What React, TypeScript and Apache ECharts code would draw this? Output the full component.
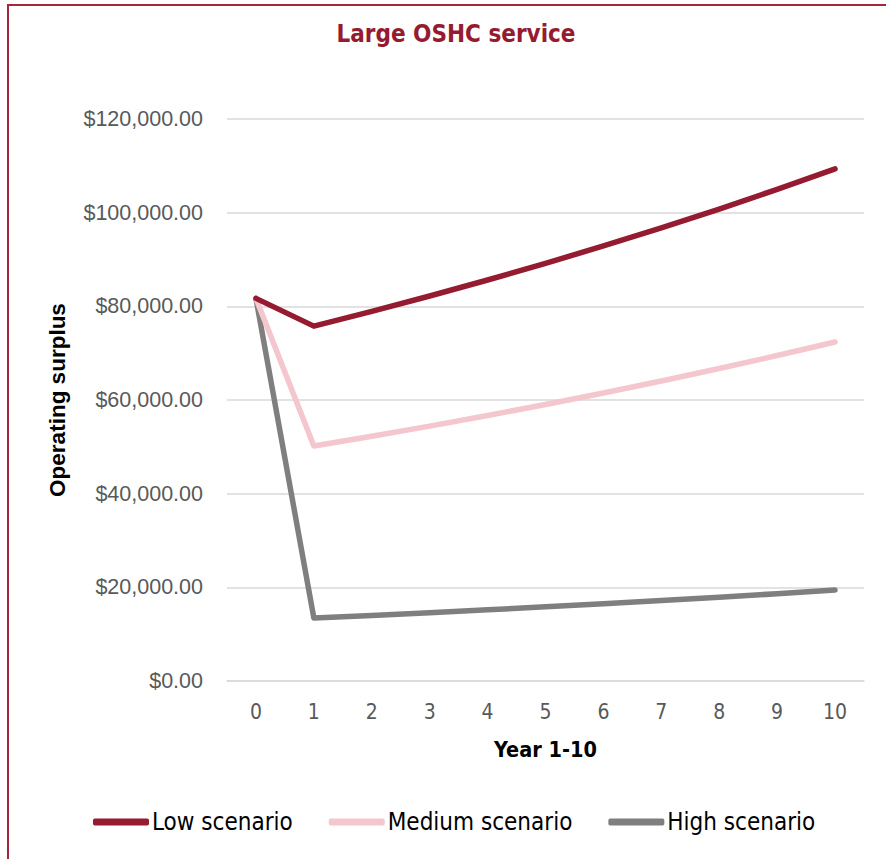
import React, { useEffect, useRef } from "react";
import * as echarts from "echarts";

const years = ["0", "1", "2", "3", "4", "5", "6", "7", "8", "9", "10"];
const lowScenario = [81700, 75770, 78920, 82200, 85620, 89180, 92890, 96750, 100780, 104970, 109340];
const mediumScenario = [81700, 50160, 52250, 54420, 56680, 59040, 61500, 64050, 66720, 69490, 72380];
const highScenario = [81700, 13450, 14010, 14590, 15200, 15830, 16490, 17180, 17890, 18640, 19410];
const seriesNames = ["Low scenario", "Medium scenario", "High scenario"];
const seriesColors = ["#951B31", "#F4C6CE", "#7F7F7F"];

const NARROW = "'DejaVu Sans Condensed', 'Liberation Sans', sans-serif";
const SANS = "'Liberation Sans', Arial, sans-serif";

function fmt(v: number): string {
  return "$" + v.toLocaleString("en-US", { minimumFractionDigits: 2, maximumFractionDigits: 2 });
}

export default function App() {
  const ref = useRef<HTMLDivElement>(null);
  useEffect(() => {
    if (!ref.current) return;
    const chart = echarts.init(ref.current, undefined, { renderer: "svg" });
    const dataSets = [lowScenario, mediumScenario, highScenario];
    chart.setOption({
      animation: false,
      backgroundColor: "#ffffff",
      title: {
        text: "Large OSHC service",
        left: 451,
        top: 17,
        textAlign: "center",
        textStyle: { fontFamily: NARROW, fontWeight: "bold", fontSize: 24, color: "#951B31" },
      },
      graphic: [
        {
          type: "rect",
          shape: { x: 8, y: 5, width: 900, height: 900 },
          style: { fill: "none", stroke: "#A3283E", lineWidth: 2 },
          silent: true,
        },
      ],
      grid: { left: 227, right: 22, top: 119, bottom: 178, containLabel: false },
      legend: {
        left: 88,
        top: 805,
        itemWidth: 56,
        itemHeight: 7,
        itemGap: 36,
        icon: "roundRect",
        data: seriesNames,
        textStyle: { fontFamily: NARROW, fontSize: 24, color: "#000000", padding: [0, 0, 0, -2] },
      },
      xAxis: {
        type: "category",
        data: years,
        boundaryGap: true,
        name: "Year 1-10",
        nameLocation: "middle",
        nameGap: 57,
        nameTextStyle: { fontFamily: NARROW, fontWeight: "bold", fontSize: 21.5, color: "#000000" },
        axisLine: { show: true, lineStyle: { color: "#D9D9D9", width: 1.5 } },
        axisTick: { show: false },
        axisLabel: { margin: 20, fontFamily: NARROW, fontSize: 21, color: "#595959" },
      },
      yAxis: {
        type: "value",
        min: 0,
        max: 120000,
        interval: 20000,
        name: "Operating surplus",
        nameLocation: "middle",
        nameGap: 158,
        nameRotate: 90,
        nameTextStyle: { fontFamily: SANS, fontWeight: "bold", fontSize: 22.5, color: "#000000" },
        axisLine: { show: false },
        axisTick: { show: false },
        splitLine: { lineStyle: { color: "#D9D9D9", width: 1.5 } },
        axisLabel: { margin: 24, fontFamily: SANS, fontSize: 21.5, color: "#595959", formatter: (v: number) => fmt(v) },
      },
      series: seriesNames.map((name, i) => ({
        name,
        type: "line",
        data: dataSets[i],
        showSymbol: false,
        symbol: "none",
        color: seriesColors[i],
        lineStyle: { width: 5.5, color: seriesColors[i], cap: "round", join: "round" },
        itemStyle: { color: seriesColors[i] },
        z: 10 - i,
      })),
    });
    return () => chart.dispose();
  }, []);
  return <div ref={ref} style={{ position: "fixed", left: 0, top: 0, width: 886, height: 859 }} />;
}
